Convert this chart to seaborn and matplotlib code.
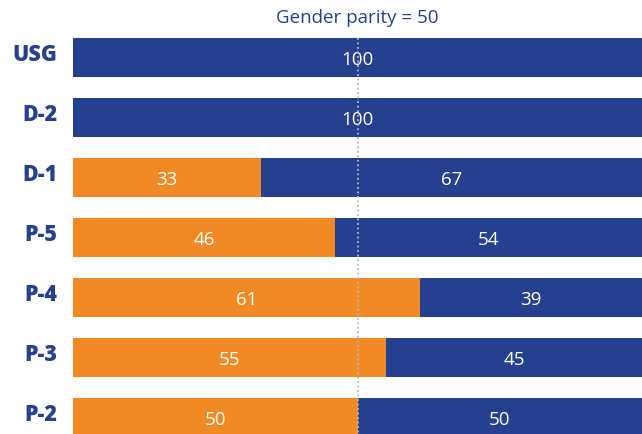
import matplotlib
matplotlib.use("Agg")
import matplotlib.pyplot as plt
import matplotlib.transforms as mtransforms
import seaborn as sns
import pandas as pd
import numpy as np

categories = ["USG", "D-2", "D-1", "P-5", "P-4", "P-3", "P-2"]
women = [0, 0, 33, 46, 61, 55, 50]
men = [100, 100, 67, 54, 39, 45, 50]
parity = 50

BLUE = "#25408f"
ORANGE = "#f18a24"

sns.set_theme(style="white")
plt.rcParams["font.family"] = ["Open Sans", "DejaVu Sans"]

df = pd.DataFrame({"cat": categories, "women": women, "men": men})
df["total"] = df["women"] + df["men"]

fig = plt.figure(figsize=(6.42, 4.34), dpi=100)
ax = fig.add_axes([73 / 642, 0, 569 / 642, 404 / 434])

sns.barplot(data=df, y="cat", x="total", orient="h", color=BLUE, saturation=1,
            width=0.65, ax=ax, order=categories, linewidth=0, edgecolor="none")
sns.barplot(data=df, y="cat", x="women", orient="h", color=ORANGE, saturation=1,
            width=0.65, ax=ax, order=categories, linewidth=0, edgecolor="none")

ax.set_xlim(0, 100)
ax.set_ylim(6.275, -0.458)

for i, (w, m) in enumerate(zip(women, men)):
    if w > 0:
        ax.text(w / 2, i + 0.04, f"{w}", ha="center", va="center", color="white", fontsize=13.5)
    if m > 0:
        ax.text(w + m / 2, i + 0.04, f"{m}", ha="center", va="center", color="white", fontsize=13.5)

ax.plot([parity, parity], [-0.325, 6.3], color="#b8b8b8", lw=1.3, ls=(0, (1, 1.5)),
        zorder=5, clip_on=False)
ax.text(parity, -0.5, f"Gender parity = {parity}", ha="center", va="bottom",
        color=BLUE, fontsize=13.5)

ax.set_xlabel("")
ax.set_ylabel("")
ax.set_xticks([])
ax.tick_params(axis="y", length=0, pad=11)
offset = mtransforms.ScaledTranslation(0, 2.5 / 100, fig.dpi_scale_trans)
for lbl in ax.get_yticklabels():
    lbl.set_fontweight("heavy")
    lbl.set_fontsize(15.5)
    lbl.set_color(BLUE)
    lbl.set_va("center")
    lbl.set_transform(lbl.get_transform() + offset)
for s in ax.spines.values():
    s.set_visible(False)

fig.savefig("out.png", dpi=100)
